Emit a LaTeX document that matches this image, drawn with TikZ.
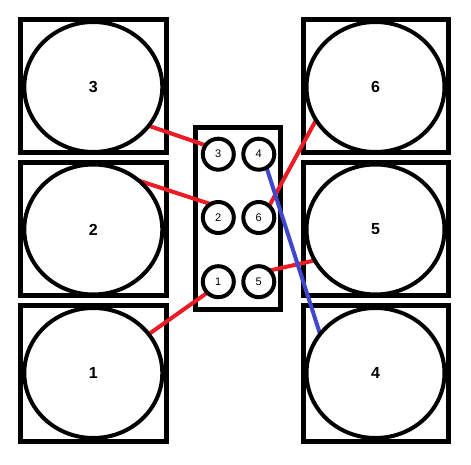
\documentclass[tikz,border=0pt]{standalone}
\usepackage{fontspec}
\setmainfont{Liberation Sans}
\usetikzlibrary{shapes.geometric,backgrounds}
\definecolor{wirered}{RGB}{237,28,36}
\definecolor{wireblue}{RGB}{63,72,204}
\tikzset{
  bigcyl/.style={ellipse, draw=black, fill=white, line width=4pt, minimum width=138pt, minimum height=130pt, inner sep=0pt, outer sep=0pt, font=\fontsize{16}{16}\selectfont\bfseries},
  smallpin/.style={circle, draw=black, fill=white, line width=4pt, minimum size=31pt, inner sep=0pt, outer sep=0pt, font=\fontsize{11}{11}\selectfont},
  frame/.style={draw=black, line width=5pt},
  redwire/.style={draw=wirered, line width=4pt},
  bluewire/.style={draw=wireblue, line width=4pt}
}
\begin{document}
\begin{tikzpicture}[x=1pt,y=-1pt]
\useasboundingbox (0,0) rectangle (471,465);
% big cylinders
\node[bigcyl] (c3) at (93.3,87) {3};
\node[bigcyl] (c2) at (93.3,229.5) {2};
\node[bigcyl] (c1) at (93.3,373) {1};
\node[bigcyl] (c6) at (375.5,87) {6};
\node[bigcyl] (c5) at (375.5,229.5) {5};
\node[bigcyl] (c4) at (375.5,373) {4};
% small pins
\node[smallpin] (p3) at (218.3,154.2) {3};
\node[smallpin] (p4) at (258.8,154.2) {4};
\node[smallpin] (p2) at (218.3,217.5) {2};
\node[smallpin] (p6) at (258.8,217.5) {6};
\node[smallpin] (p1) at (218.3,281.7) {1};
\node[smallpin] (p5) at (258.8,281.7) {5};
\begin{pgfonlayer}{background}
  % boxes
  \draw[frame] (20.5,19.5) rectangle (166,152.5);
  \draw[frame] (20.5,162.5) rectangle (166,295.5);
  \draw[frame] (20.5,305) rectangle (166,441.5);
  \draw[frame] (303,19.5) rectangle (448.5,152.5);
  \draw[frame] (303,162.5) rectangle (448.5,295.5);
  \draw[frame] (303,305) rectangle (448.5,441.5);
  \draw[frame] (195.8,127.5) rectangle (280.2,309.2);
  % wires
  \draw[redwire] (c3.-35) -- (p3.145);
  \draw[redwire] (c2.47) -- (p2.120);
  \draw[redwire] (c1.35) -- (p1.225);
  \draw[redwire] (c6.209) -- (p6.48);
  \draw[redwire] (c5.207) -- (p5.46);
  \draw[bluewire] (p4.-60) -- (c4.145);
\end{pgfonlayer}
\end{tikzpicture}
\end{document}
